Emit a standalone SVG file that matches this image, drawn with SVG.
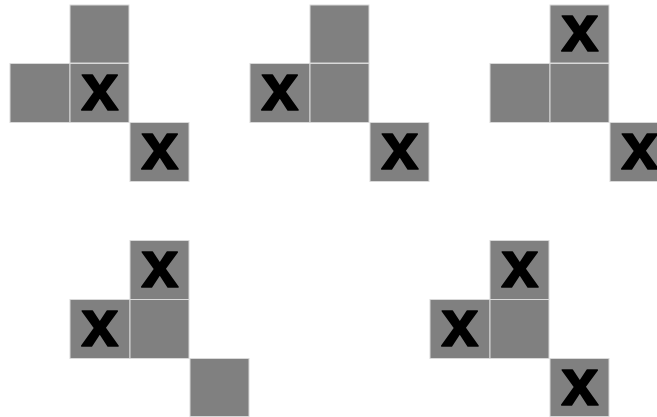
<svg xmlns="http://www.w3.org/2000/svg" width="657" height="417" viewBox="0 0 657 417">
<style>
.c{fill:#808080;stroke:#d9d9d9;stroke-width:1}
.x{font-family:"Liberation Sans",Arial,sans-serif;font-weight:bold;font-size:67px;fill:#000;stroke:#000;stroke-width:1.6;stroke-linejoin:round;text-anchor:middle}
</style>
<rect width="657" height="417" fill="#fff"/>
<g id="g1">
<rect class="c" x="70" y="5" width="59" height="58"/>
<rect class="c" x="10" y="63.5" width="60" height="59"/>
<rect class="c" x="70" y="63.5" width="59" height="59"/><text class="x" x="100" y="109.5">x</text>
<rect class="c" x="130" y="122.5" width="59" height="59"/><text class="x" x="160" y="168.5">x</text>
</g>
<g id="g2">
<rect class="c" x="310" y="5" width="59" height="58"/>
<rect class="c" x="250" y="63.5" width="60" height="59"/><text class="x" x="280" y="109.5">x</text>
<rect class="c" x="310" y="63.5" width="59" height="59"/>
<rect class="c" x="370" y="122.5" width="59" height="59"/><text class="x" x="400" y="168.5">x</text>
</g>
<g id="g3">
<rect class="c" x="550" y="5" width="59" height="58"/><text class="x" x="580" y="51">x</text>
<rect class="c" x="490" y="63.5" width="60" height="59"/>
<rect class="c" x="550" y="63.5" width="59" height="59"/>
<rect class="c" x="610" y="122.5" width="59" height="59"/><text class="x" x="640" y="168.5">x</text>
</g>
<g id="g4">
<rect class="c" x="130" y="240.5" width="59" height="59"/><text class="x" x="160" y="286.5">x</text>
<rect class="c" x="70" y="299.5" width="60" height="59"/><text class="x" x="100" y="345.5">x</text>
<rect class="c" x="130" y="299.5" width="59" height="59"/>
<rect class="c" x="190" y="358.5" width="59" height="58"/>
</g>
<g id="g5">
<rect class="c" x="490" y="240.5" width="59" height="59"/><text class="x" x="520" y="286.5">x</text>
<rect class="c" x="430" y="299.5" width="60" height="59"/><text class="x" x="460" y="345.5">x</text>
<rect class="c" x="490" y="299.5" width="59" height="59"/>
<rect class="c" x="550" y="358.5" width="59" height="58"/><text class="x" x="580" y="404.5">x</text>
</g>
</svg>
